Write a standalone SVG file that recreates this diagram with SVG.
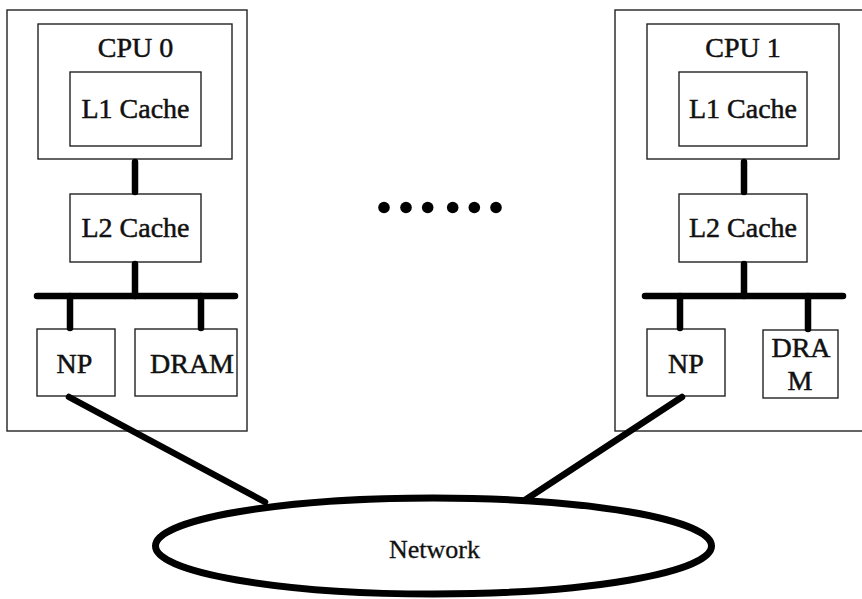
<svg xmlns="http://www.w3.org/2000/svg" width="862" height="599" viewBox="0 0 862 599">
  <style>
    .box { fill: #fff; stroke: #222; stroke-width: 1.4; }
    .label { font-family: "Liberation Serif", "Times New Roman", serif; font-size: 28px; fill: #111; stroke: #111; stroke-width: 0.5; text-anchor: middle; }
    .net-label { font-size: 26px; stroke-width: 0.3; }
    .wire { stroke: #000; stroke-width: 6.5; stroke-linecap: round; fill: none; }
    .dot { fill: #000; }
  </style>
  <rect width="862" height="599" fill="#fff"/>

  <!-- Node 0 -->
  <g id="node0">
    <rect class="box" x="7" y="10" width="240" height="421"/>
    <g id="cpu0">
      <rect class="box" x="38" y="24" width="194" height="135"/>
      <text class="label" x="135.5" y="57">CPU 0</text>
    </g>
    <g id="l1-0">
      <rect class="box" x="70" y="72" width="131" height="74"/>
      <text class="label" x="135.5" y="118">L1 Cache</text>
    </g>
    <g id="l2-0">
      <rect class="box" x="70" y="194" width="131" height="68"/>
      <text class="label" x="135.5" y="237">L2 Cache</text>
    </g>
    <g id="np0">
      <rect class="box" x="37" y="329" width="78" height="67"/>
      <text class="label" x="74.5" y="373">NP</text>
    </g>
    <g id="dram0">
      <rect class="box" x="135" y="329" width="102" height="67"/>
      <text class="label" x="192" y="373">DRAM</text>
    </g>
  </g>

  <!-- Node 1 -->
  <g id="node1">
    <rect class="box" x="615" y="10" width="260" height="421"/>
    <g id="cpu1">
      <rect class="box" x="647" y="24" width="192" height="135"/>
      <text class="label" x="743" y="57">CPU 1</text>
    </g>
    <g id="l1-1">
      <rect class="box" x="679" y="72" width="128" height="74"/>
      <text class="label" x="743" y="118">L1 Cache</text>
    </g>
    <g id="l2-1">
      <rect class="box" x="679" y="194" width="128" height="68"/>
      <text class="label" x="743" y="237">L2 Cache</text>
    </g>
    <g id="np1">
      <rect class="box" x="647" y="329" width="78" height="67"/>
      <text class="label" x="686" y="373">NP</text>
    </g>
    <g id="dram1">
      <rect class="box" x="763" y="330" width="75" height="68"/>
      <text class="label" x="801" y="357">DRA</text>
      <text class="label" x="800" y="390">M</text>
    </g>
  </g>

  <!-- Network -->
  <g id="network">
    <ellipse cx="433.5" cy="546" rx="278" ry="48" fill="#fff" stroke="#000" stroke-width="7"/>
    <text class="label net-label" x="434.5" y="558">Network</text>
  </g>

  <!-- Ellipsis between nodes -->
  <g id="ellipsis">
    <circle class="dot" cx="384" cy="207.5" r="5.8"/>
    <circle class="dot" cx="406" cy="207.5" r="5.8"/>
    <circle class="dot" cx="427.7" cy="207.5" r="5.8"/>
    <circle class="dot" cx="452.7" cy="207.5" r="5.8"/>
    <circle class="dot" cx="474.3" cy="207.5" r="5.8"/>
    <circle class="dot" cx="496" cy="207.5" r="5.8"/>
  </g>

  <!-- Connectors -->
  <g id="connectors">
    <!-- node 0 -->
    <line class="wire" x1="135" y1="162" x2="135" y2="192"/>
    <line class="wire" x1="135" y1="264" x2="135" y2="296"/>
    <line class="wire" x1="37" y1="296" x2="235" y2="296"/>
    <line class="wire" x1="70" y1="296" x2="70" y2="328"/>
    <line class="wire" x1="201" y1="296" x2="201" y2="328"/>
    <!-- node 1 -->
    <line class="wire" x1="744" y1="162" x2="744" y2="192"/>
    <line class="wire" x1="744" y1="264" x2="744" y2="296"/>
    <line class="wire" x1="645" y1="296" x2="843" y2="296"/>
    <line class="wire" x1="680" y1="296" x2="680" y2="328"/>
    <line class="wire" x1="808" y1="296" x2="808" y2="329"/>
    <!-- links to network -->
    <line class="wire" x1="69" y1="397" x2="265" y2="502" stroke-linecap="butt"/>
    <line class="wire" x1="682" y1="397" x2="525" y2="500" stroke-linecap="butt"/>
  </g>
</svg>
